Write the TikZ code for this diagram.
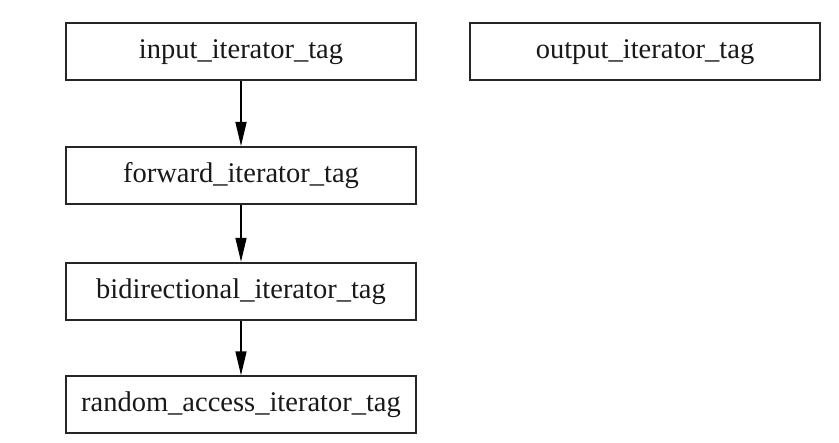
\documentclass[tikz,border=0pt]{standalone}
\usepackage{fontspec}
\setmainfont{Liberation Serif}
\usetikzlibrary{arrows.meta}
\begin{document}
\begin{tikzpicture}[x=1pt,y=-1pt,
  tagbox/.style={draw=black!85, line width=1.8pt, minimum width=350pt, minimum height=57pt, inner sep=0pt, font=\fontsize{28.5}{32}\selectfont, text=black!90},
  link/.style={draw=black, line width=1.5pt, -{Triangle[length=24pt,width=11pt]}}]
\useasboundingbox (0,0) rectangle (839,443);
\node[tagbox] (in) at (241,51.9) {input\_iterator\_tag};
\node[tagbox] (out) at (645,51.9) {output\_iterator\_tag};
\node[tagbox] (fw) at (241,175.4) {forward\_iterator\_tag};
\node[tagbox] (bi) at (241,291.2) {bidirectional\_iterator\_tag};
\node[tagbox] (ra) at (241,404.7) {random\_access\_iterator\_tag};
\draw[link] (in) -- (fw);
\draw[link] (fw) -- (bi);
\draw[link] (bi) -- (ra);
\end{tikzpicture}
\end{document}
